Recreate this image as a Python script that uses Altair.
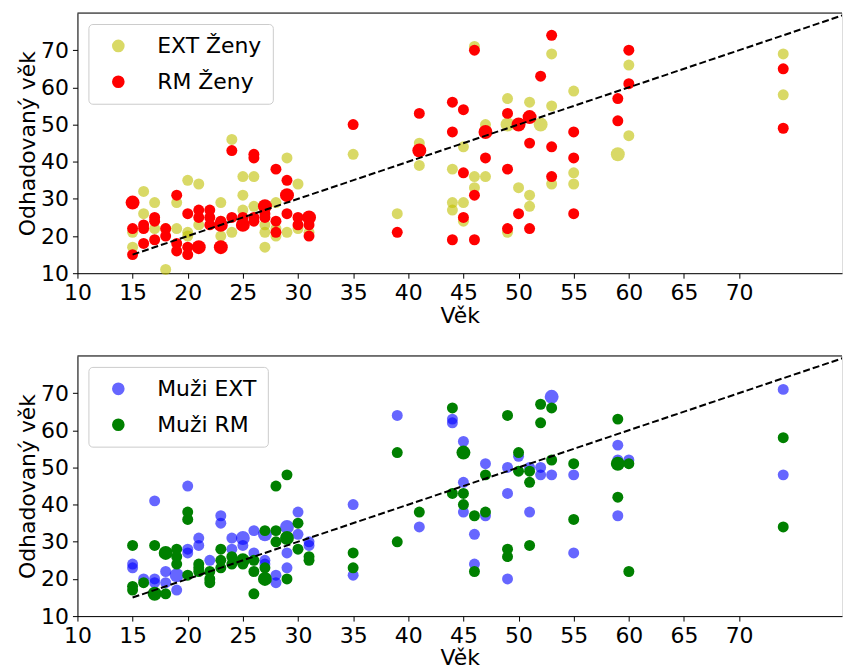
import altair as alt
import pandas as pd

# ---------------- data: age -> list of estimated ages (repeats = duplicates) ----------------
zeny_ext = {15: [21, 17], 16: [32, 26], 17: [29, 22], 18: [22, 11], 19: [29, 22], 20: [35, 21, 20],
            21: [34, 23], 23: [29, 24, 20], 24: [46, 21], 25: [36, 31, 27], 26: [36, 28],
            27: [23, 21, 17], 28: [29, 22, 20], 29: [41, 21], 30: [34, 22], 31: [21], 35: [42],
            39: [26], 41: [45, 39], 44: [38, 29, 27], 45: [44, 29, 24], 46: [71, 36, 33],
            47: [50, 36], 49: [57, 50, 50, 21], 50: [33], 51: [56, 31, 28], 52: [50, 50],
            53: [69, 55, 34], 55: [59, 37, 34], 59: [42, 42], 60: [66, 47], 74: [69, 58]}

zeny_rm = {15: [29, 29, 22, 15], 16: [23, 22, 18], 17: [25, 24, 19], 18: [22, 20], 19: [31, 18, 16],
           20: [26, 17, 15], 21: [27, 25, 17, 17], 22: [27, 25, 23], 23: [24, 23, 23, 17, 17],
           24: [43, 25], 25: [25, 23, 23], 26: [42, 41, 25, 24], 27: [28, 28, 26, 25],
           28: [38, 24, 21], 29: [35, 31, 31, 26], 30: [25, 23], 31: [25, 25, 23, 20], 35: [50],
           39: [21], 41: [53, 43, 43], 44: [56, 48, 19], 45: [54, 37, 25], 46: [70, 31, 19],
           47: [48, 48, 41], 49: [53, 38, 22], 50: [50, 50, 26], 51: [52, 52, 45, 22], 52: [63],
           53: [74, 44, 36], 55: [48, 41, 26], 59: [57, 51], 60: [70, 61], 74: [65, 49]}

muzi_ext = {15: [24, 23], 16: [20], 17: [41, 20, 19], 18: [22, 19], 19: [21, 21, 17], 20: [45, 28, 27],
            21: [31, 29], 22: [25], 23: [37, 35], 24: [31, 28], 25: [31, 31, 29], 26: [33, 27],
            27: [32, 32, 25, 24], 28: [21, 19], 29: [34, 34, 27, 23], 30: [38, 32], 31: [30, 29],
            35: [40, 21], 39: [64], 41: [34], 44: [63, 62], 45: [57, 46, 38], 46: [32, 24],
            47: [51, 37], 49: [50, 43, 20], 50: [53], 51: [50, 38], 52: [50, 48], 53: [69, 69, 48],
            55: [48, 27], 59: [56, 52, 37], 60: [52], 74: [71, 48]}

muzi_rm = {15: [29, 18, 17], 16: [19], 17: [29, 16, 16], 18: [27, 27, 16], 19: [28, 26, 24],
           20: [38, 36, 21], 21: [24, 23, 22], 22: [22, 20, 19], 23: [28, 25, 23], 24: [26, 24],
           25: [25, 25, 24], 26: [25, 22, 16], 27: [33, 23, 20, 20], 28: [45, 33, 30],
           29: [48, 31, 31, 20], 30: [35, 28], 31: [26, 25], 35: [27, 23], 39: [54, 30], 41: [38],
           44: [66, 43], 45: [54, 54, 43, 40], 46: [37, 22], 47: [48, 38], 49: [64, 28, 26],
           50: [54, 49], 51: [49, 46, 29], 52: [67, 62], 53: [66, 52], 55: [51, 36],
           59: [63, 51, 51, 42], 60: [51, 22], 74: [58, 34]}

top_names = ["EXT Ženy", "RM Ženy"]
bottom_names = ["Muži EXT", "Muži RM"]
top_colors = ["#bfbf00", "#ff0000"]
bottom_colors = ["#0000ff", "#008000"]
series_opacity = [0.6, 1.0]

diag = [15, 80]
x_ticks = list(range(10, 75, 5))
y_ticks = list(range(10, 80, 10))

W = 767
H = 261
FONT = "DejaVu Sans"


def build_frame(ext, rm, names):
    rows = []
    for name, d in ((names[0], ext), (names[1], rm)):
        counts = {}
        for age, ests in d.items():
            for e in ests:
                counts[(age, e)] = counts.get((age, e), 0) + 1
        for (age, e), n in counts.items():
            rows.append({"vek": age, "odhad": e, "skupina": name, "n": n})
    return pd.DataFrame(rows)


def panel(ext, rm, names, colors):
    df = build_frame(ext, rm, names)
    xs = alt.Scale(domain=[10, 79.33], nice=False, zero=False)
    ys = alt.Scale(domain=[10, 80], nice=False, zero=False)
    x_axis = alt.Axis(title="Věk", values=x_ticks, grid=False, tickSize=5, tickColor="black",
                      domainColor="black", labelColor="black", titleColor="black",
                      labelFontSize=22, titleFontSize=22, labelFont=FONT, titleFont=FONT,
                      titleFontWeight="normal", labelPadding=4, titlePadding=0,
                      minExtent=32, maxExtent=32, labelFlush=False)
    y_axis = alt.Axis(title="Odhadovaný věk", values=y_ticks, grid=False, tickSize=5,
                      tickColor="black", domainColor="black", labelColor="black",
                      titleColor="black", labelFontSize=22, titleFontSize=22, labelFont=FONT,
                      titleFont=FONT, titleFontWeight="normal", labelPadding=4, titlePadding=1,
                      minExtent=37, maxExtent=37, labelFlush=False)
    legend = alt.Legend(title=None, orient="top-left", offset=11, padding=11, rowPadding=14,
                        labelFontSize=22, labelFont=FONT, labelColor="black", symbolSize=160,
                        symbolType="circle", symbolOffset=8, labelOffset=28,
                        strokeColor="#cccccc", fillColor="rgba(255,255,255,0.8)",
                        cornerRadius=4, symbolStrokeWidth=0)
    pts = alt.Chart(df).mark_circle().encode(
        x=alt.X("vek:Q", scale=xs, axis=x_axis),
        y=alt.Y("odhad:Q", scale=ys, axis=y_axis),
        color=alt.Color("skupina:N", scale=alt.Scale(domain=names, range=colors), legend=legend),
        opacity=alt.Opacity("skupina:N", scale=alt.Scale(domain=names, range=series_opacity),
                            legend=legend),
        size=alt.Size("n:Q", scale=alt.Scale(domain=[1, 2], range=[121, 196]), legend=None),
    )
    line = alt.Chart(pd.DataFrame({"vek": diag, "odhad": diag})).mark_line(
        clip=True, color="black", strokeDash=[7, 3], strokeWidth=2
    ).encode(x=alt.X("vek:Q", scale=xs), y=alt.Y("odhad:Q", scale=ys))
    top_rule = alt.Chart(pd.DataFrame({"a": [0]})).mark_rule(color="black", strokeWidth=1).encode(
        y=alt.value(0), x=alt.value(0), x2=alt.value(W)
    )
    return alt.layer(pts, line, top_rule).properties(width=W, height=H)


top = panel(zeny_ext, zeny_rm, top_names, top_colors)
bottom = panel(muzi_ext, muzi_rm, bottom_names, bottom_colors)

chart = alt.vconcat(top, bottom, spacing=28).resolve_scale(
    color="independent", opacity="independent", size="independent"
).resolve_legend(
    color="independent", opacity="independent"
).properties(
    padding={"left": 15.7, "top": 11, "right": 0, "bottom": 0}
).configure_view(stroke=None).configure(font=FONT)

chart.save("out.html", embed_options={"renderer": "svg", "actions": False})
